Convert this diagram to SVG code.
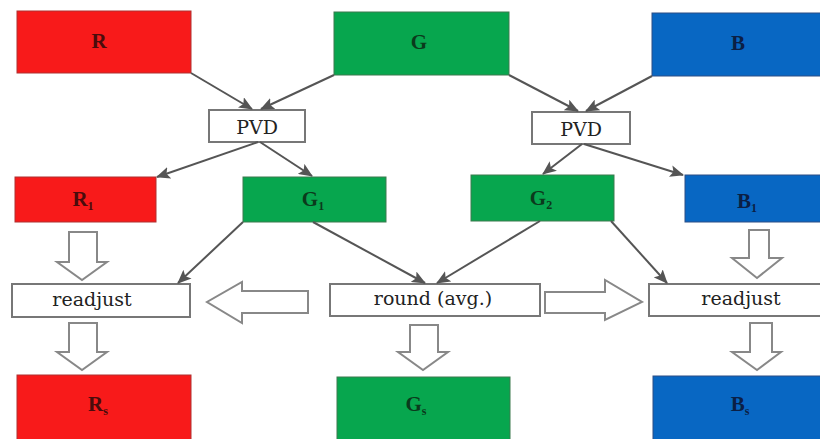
<svg xmlns="http://www.w3.org/2000/svg" width="820" height="439" viewBox="0 0 820 439">
<style>
.red{fill:#f81a1a;stroke:#b03030;stroke-width:1}
.green{fill:#07a64e;stroke:#3d7a4f;stroke-width:1}
.blue{fill:#0867c3;stroke:#2d4f86;stroke-width:1}
.white{fill:#fff;stroke:#777;stroke-width:2}
.hollow{fill:#fff;stroke:#888;stroke-width:2;stroke-linejoin:miter}
.t{font-family:'DejaVu Serif','Liberation Serif',serif;font-size:19px;text-anchor:middle;fill:#222}
.tb{font-family:'Liberation Serif',serif;font-size:21px;font-weight:bold;text-anchor:middle}
.sub{font-size:12px}
.conn{stroke:#555;stroke-width:2;fill:none;marker-end:url(#ah)}
</style>
<defs>
<marker id="ah" markerUnits="userSpaceOnUse" markerWidth="14" markerHeight="12" refX="13" refY="6" orient="auto">
<path d="M0,0 L14,6 L0,12 L3,6 Z" fill="#555"/>
</marker>
</defs>
<rect width="820" height="439" fill="#fff"/>

<g id="R"><rect class="red" x="17" y="11" width="174" height="62"/><text class="tb" x="99" y="48" fill="#4a0c0c">R</text></g>
<g id="G"><rect class="green" x="334" y="12" width="175" height="63"/><text class="tb" x="419" y="49" fill="#0b3a1c">G</text></g>
<g id="B"><rect class="blue" x="652" y="13" width="180" height="63"/><text class="tb" x="738" y="50" fill="#0b1f45">B</text></g>

<g id="PVD1"><rect class="white" x="209" y="110" width="96" height="32"/><text class="t" x="257" y="134">PVD</text></g>
<g id="PVD2"><rect class="white" x="532" y="112" width="98" height="32"/><text class="t" x="581" y="136">PVD</text></g>

<g id="R1"><rect class="red" x="15" y="177" width="141" height="45"/><text class="tb" x="83" y="206" fill="#4a0c0c">R<tspan class="sub" dy="4">1</tspan></text></g>
<g id="G1"><rect class="green" x="243" y="177" width="143" height="45"/><text class="tb" x="313" y="206" fill="#0b3a1c">G<tspan class="sub" dy="4">1</tspan></text></g>
<g id="G2"><rect class="green" x="471" y="175" width="143" height="46"/><text class="tb" x="541" y="205" fill="#0b3a1c">G<tspan class="sub" dy="4">2</tspan></text></g>
<g id="B1"><rect class="blue" x="685" y="175" width="145" height="47"/><text class="tb" x="747" y="208" fill="#0b1f45">B<tspan class="sub" dy="4">1</tspan></text></g>

<g id="readjustL"><rect class="white" x="12" y="284" width="178" height="33"/><text class="t" x="92" y="306">readjust</text></g>
<g id="round"><rect class="white" x="330" y="284" width="210" height="32"/><text class="t" x="433" y="305">round (avg.)</text></g>
<g id="readjustR"><rect class="white" x="649" y="284" width="180" height="32"/><text class="t" x="741" y="305">readjust</text></g>

<g id="Rs"><rect class="red" x="17" y="375" width="174" height="66"/><text class="tb" x="98" y="411" fill="#4a0c0c">R<tspan class="sub" dy="4">s</tspan></text></g>
<g id="Gs"><rect class="green" x="337" y="377" width="173" height="64"/><text class="tb" x="416" y="411" fill="#0b3a1c">G<tspan class="sub" dy="4">s</tspan></text></g>
<g id="Bs"><rect class="blue" x="653" y="376" width="180" height="65"/><text class="tb" x="740" y="411" fill="#0b1f45">B<tspan class="sub" dy="4">s</tspan></text></g>

<g id="connectors">
<line class="conn" x1="191" y1="73" x2="252" y2="109"/>
<line class="conn" x1="334" y1="75" x2="261" y2="109"/>
<line class="conn" x1="258" y1="142" x2="157" y2="177"/>
<line class="conn" x1="260" y1="142" x2="312" y2="176"/>
<line class="conn" x1="509" y1="75" x2="578" y2="111"/>
<line class="conn" x1="652" y1="76" x2="586" y2="111"/>
<line class="conn" x1="582" y1="144" x2="543" y2="174"/>
<line class="conn" x1="584" y1="144" x2="683" y2="175"/>
<line class="conn" x1="243" y1="222" x2="178" y2="283"/>
<line class="conn" x1="313" y1="222" x2="425" y2="283"/>
<line class="conn" x1="540" y1="221" x2="437" y2="283"/>
<line class="conn" x1="611" y1="221" x2="667" y2="283"/>

<path class="hollow" d="M69,232 H97 V262 H107 L82,280 L57,262 H69 Z"/>
<path class="hollow" d="M69,323 H97 V352 H107 L82,370 L57,352 H69 Z"/>
<path class="hollow" d="M410,325 H438 V352 H448 L423,370 L398,352 H410 Z"/>
<path class="hollow" d="M749,230 H769 V258 H782 L757,278 L732,258 H749 Z"/>
<path class="hollow" d="M750,323 H772 V352 H781 L757,370 L732,352 H750 Z"/>
<path class="hollow" d="M308,291 V313 H242 V323 L207,302 L242,282 V291 Z"/>
<path class="hollow" d="M545,292 V313 H605 V320 L642,302 L605,280 V292 Z"/>
</g>
</svg>
